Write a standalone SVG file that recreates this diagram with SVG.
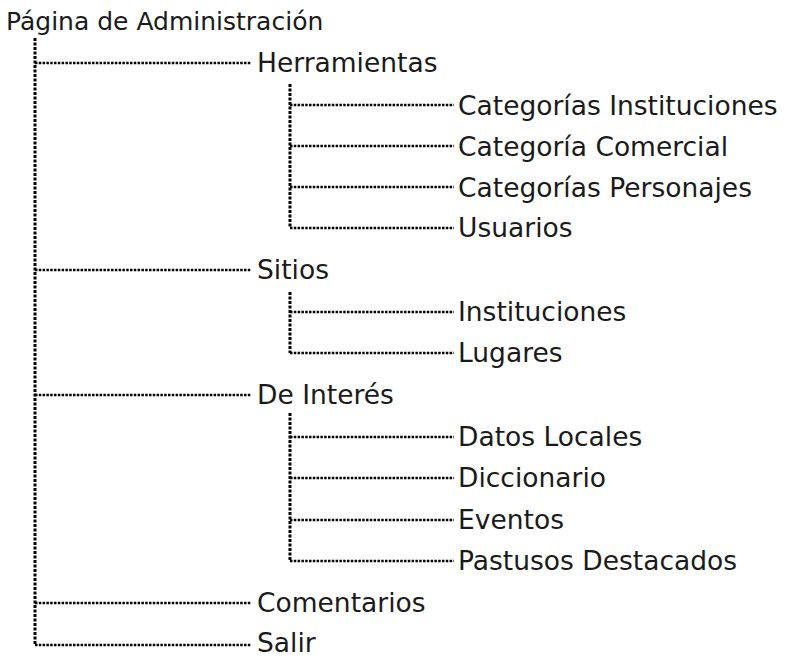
<svg xmlns="http://www.w3.org/2000/svg" width="788" height="658" viewBox="0 0 788 658">
<style>
text{font-family:"DejaVu Sans",Verdana,sans-serif;font-size:26.5px;fill:#1a1a1a}
.title{font-size:25px}
.v{stroke:#000;stroke-width:3;stroke-dasharray:3 1.5;fill:none}
.h{stroke:#000;stroke-width:2.5;stroke-dasharray:2.5 1.3;fill:none}
</style>
<rect width="788" height="658" fill="#fff"/>
<g id="connectors">
<path class="v" d="M35 38V645"/>
<path class="v" d="M290 84V228"/>
<path class="v" d="M290 292V353"/>
<path class="v" d="M290 413V561"/>
<path class="h" d="M35 63H251M35 270H251M35 395H251M35 603H251M35 645H251"/>
<path class="h" d="M290 105H454M290 146H454M290 187H454M290 228H454M290 312H454M290 353H454M290 437H454M290 478H454M290 520H454M290 561H454"/>
</g>
<g id="root"><text class="title" x="6" y="30">Página de Administración</text></g>
<g id="herramientas"><text x="257" y="72">Herramientas</text></g>
<g id="cat-inst"><text x="458" y="115">Categorías Instituciones</text></g>
<g id="cat-com"><text x="458" y="156">Categoría Comercial</text></g>
<g id="cat-pers"><text x="458" y="197">Categorías Personajes</text></g>
<g id="usuarios"><text x="458" y="237">Usuarios</text></g>
<g id="sitios"><text x="257" y="279">Sitios</text></g>
<g id="instituciones"><text x="458" y="321">Instituciones</text></g>
<g id="lugares"><text x="458" y="362">Lugares</text></g>
<g id="de-interes"><text x="257" y="404">De Interés</text></g>
<g id="datos-locales"><text x="458" y="446">Datos Locales</text></g>
<g id="diccionario"><text x="458" y="487">Diccionario</text></g>
<g id="eventos"><text x="458" y="529">Eventos</text></g>
<g id="pastusos"><text x="458" y="570">Pastusos Destacados</text></g>
<g id="comentarios"><text x="257" y="612">Comentarios</text></g>
<g id="salir"><text x="257" y="652">Salir</text></g>
</svg>
